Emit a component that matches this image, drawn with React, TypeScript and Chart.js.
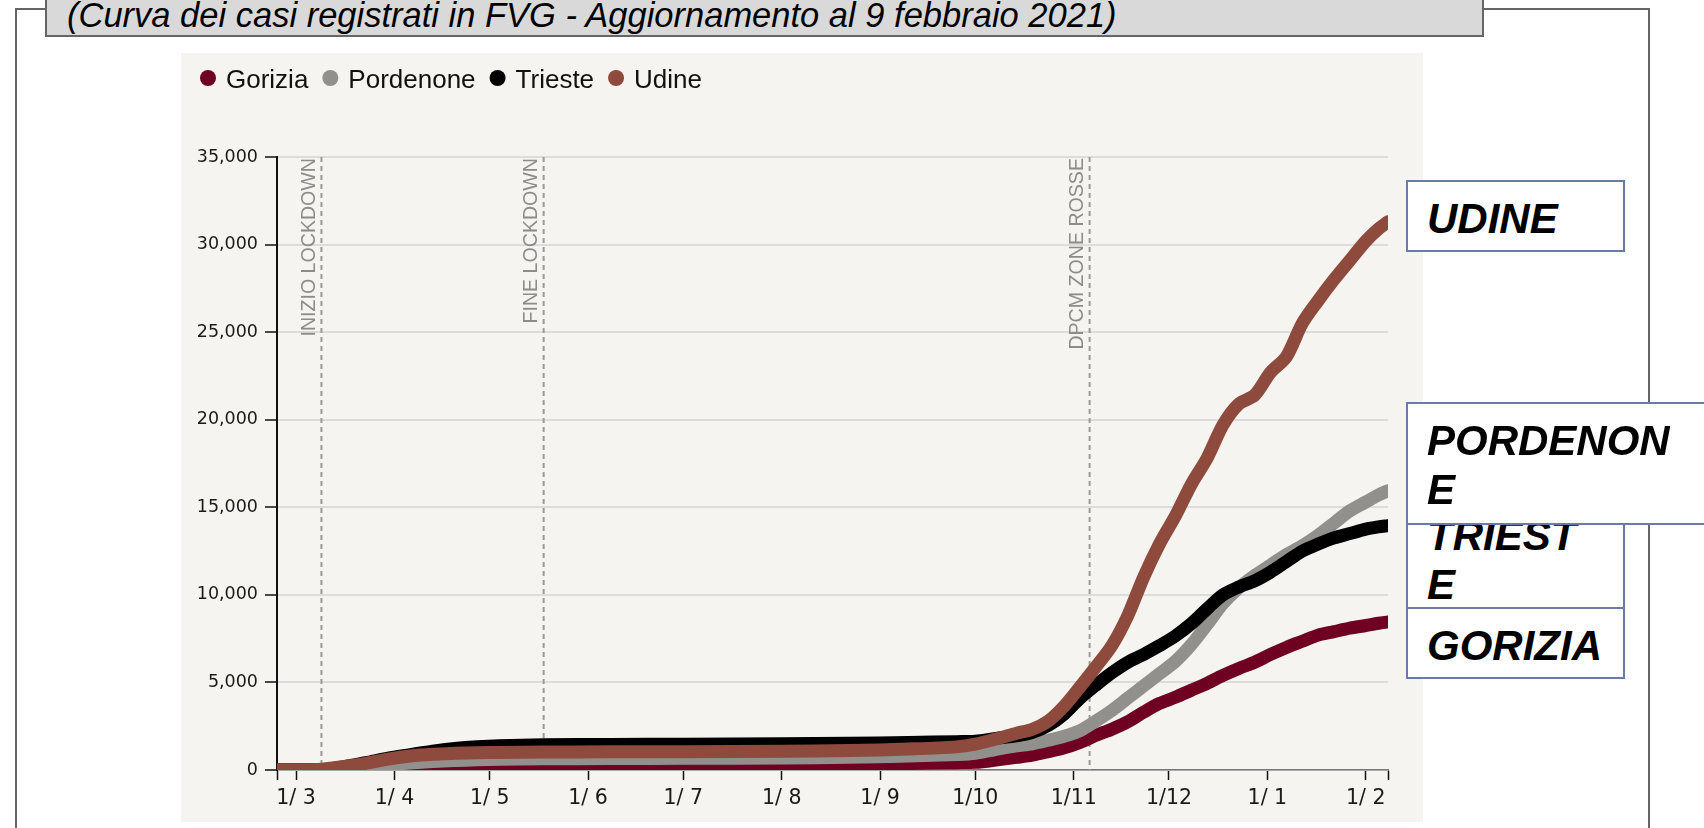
import React, { useEffect, useRef } from "react";
import { Chart, registerables } from "chart.js";

Chart.register(...registerables);

// ---------- DATA ----------
const dates = [
  "2020-02-24", "2020-03-02", "2020-03-09", "2020-03-16", "2020-03-23", "2020-03-30",
  "2020-04-06", "2020-04-13", "2020-04-20", "2020-04-27", "2020-05-04", "2020-05-18",
  "2020-06-08", "2020-07-01", "2020-08-01", "2020-08-22", "2020-09-10", "2020-09-25",
  "2020-10-01", "2020-10-08", "2020-10-14", "2020-10-19", "2020-10-24", "2020-10-29",
  "2020-11-03", "2020-11-08", "2020-11-13", "2020-11-18", "2020-11-23", "2020-11-28",
  "2020-12-03", "2020-12-08", "2020-12-13", "2020-12-18", "2020-12-23", "2020-12-28",
  "2021-01-02", "2021-01-07", "2021-01-12", "2021-01-17", "2021-01-22", "2021-01-27",
  "2021-02-01", "2021-02-05", "2021-02-08",
];

const gorizia = [
  0, 0, 2, 20, 50, 90,
  130, 170, 200, 220, 240, 260,
  270, 280, 300, 330, 370, 420,
  440, 580, 720, 850, 1050, 1270,
  1580, 1980, 2330, 2750, 3300, 3800,
  4150, 4550, 4950, 5400, 5800, 6150,
  6600, 7000, 7350, 7700, 7900, 8100,
  8250, 8380, 8450,
];

const pordenone = [
  0, 0, 10, 70, 180, 300,
  400, 480, 540, 580, 610, 640,
  655, 665, 690, 730, 800, 880,
  950, 1200, 1380, 1500, 1700, 1930,
  2250, 2800, 3400, 4100, 4800, 5500,
  6200, 7150, 8300, 9500, 10400, 11100,
  11700, 12300, 12800, 13400, 14100, 14800,
  15300, 15700, 15950,
];

const trieste = [
  0, 0, 20, 180, 420, 680,
  880, 1080, 1230, 1330, 1390, 1440,
  1460, 1470, 1500, 1530, 1570, 1620,
  1640, 1820, 1950, 2150, 2550, 3200,
  4100, 4850, 5550, 6150, 6600, 7100,
  7650, 8350, 9200, 10000, 10450, 10800,
  11300, 11900, 12500, 12900, 13250, 13500,
  13750, 13880, 13950,
];

const udine = [
  0, 0, 40, 200, 380, 620,
  800, 900, 950, 985, 1005, 1025,
  1035, 1045, 1070, 1110, 1200, 1320,
  1480, 1800, 2100, 2330, 2800, 3650,
  4750, 5900, 7100, 8800, 11000, 12900,
  14500, 16300, 17800, 19700, 20900, 21400,
  22700, 23600, 25500, 26800, 28000, 29100,
  30200, 30900, 31300,
];

const seriesNames = ["Gorizia", "Pordenone", "Trieste", "Udine"];
const seriesColors = ["#6f0022", "#91908c", "#000000", "#8e4a3c"];

const axisStartDate = "2020-02-24";
const axisEndDate = "2021-02-08";
const monthTickDates = [
  "2020-03-01", "2020-04-01", "2020-05-01", "2020-06-01", "2020-07-01", "2020-08-01",
  "2020-09-01", "2020-10-01", "2020-11-01", "2020-12-01", "2021-01-01", "2021-02-01",
];
const monthTickLabels = ["1/ 3", "1/ 4", "1/ 5", "1/ 6", "1/ 7", "1/ 8", "1/ 9", "1/10", "1/11", "1/12", "1/ 1", "1/ 2"];

const yTickValues = [0, 5000, 10000, 15000, 20000, 25000, 30000, 35000];
const yTickLabels = ["0", "5,000", "10,000", "15,000", "20,000", "25,000", "30,000", "35,000"];

const eventDates = ["2020-03-09", "2020-05-18", "2020-11-06"];
const eventLabels = ["INIZIO LOCKDOWN", "FINE LOCKDOWN", "DPCM ZONE ROSSE"];

const titleText = "(Curva dei casi registrati in FVG - Aggiornamento al 9 febbraio 2021)";

// ---------- HELPERS ----------
const START = Date.UTC(2020, 1, 24);
const dayOf = (s: string) => {
  const [y, m, d] = s.split("-").map(Number);
  return Math.round((Date.UTC(y, m - 1, d) - START) / 86400000);
};

const monthTickDays = monthTickDates.map(dayOf);
const eventDays = eventDates.map(dayOf);

const eventPlugin = {
  id: "eventLines",
  beforeDatasetsDraw(chart: any) {
    const { ctx, chartArea, scales } = chart;
    ctx.save();
    eventDays.forEach((d, i) => {
      const x = scales.x.getPixelForValue(d);
      ctx.strokeStyle = "#9a9a9a";
      ctx.lineWidth = 2;
      ctx.setLineDash([5, 4]);
      ctx.beginPath();
      ctx.moveTo(x, chartArea.top);
      ctx.lineTo(x, chartArea.bottom);
      ctx.stroke();
      ctx.setLineDash([]);
      ctx.save();
      ctx.translate(x - 6.5, chartArea.top + 1);
      ctx.rotate(-Math.PI / 2);
      ctx.fillStyle = "#8c8c8c";
      ctx.font = '19.6px "Liberation Sans", Arial, sans-serif';
      ctx.textAlign = "right";
      ctx.textBaseline = "alphabetic";
      ctx.fillText(eventLabels[i], 0, 0);
      ctx.restore();
    });
    ctx.restore();
  },
};

const legendPlugin = {
  id: "dotLegend",
  afterDraw(chart: any) {
    const ctx = chart.ctx;
    ctx.save();
    ctx.font = '26px "Liberation Sans", Arial, sans-serif';
    ctx.textBaseline = "alphabetic";
    ctx.textAlign = "left";
    let cx = 27;
    const cy = 25;
    chart.data.datasets.forEach((ds: any) => {
      ctx.fillStyle = ds.borderColor;
      ctx.beginPath();
      ctx.arc(cx, cy, 8, 0, Math.PI * 2);
      ctx.fill();
      const tx = cx + 18;
      ctx.fillStyle = "#111";
      ctx.fillText(ds.label, tx, cy + 9.5);
      cx = tx + ctx.measureText(ds.label).width + 22;
    });
    ctx.restore();
  },
};

function ChartCanvas() {
  const ref = useRef<HTMLCanvasElement | null>(null);
  useEffect(() => {
    if (!ref.current) return;
    const series = [gorizia, pordenone, trieste, udine];
    const chart = new Chart(ref.current, {
      type: "line",
      data: {
        datasets: series.map((vals, i) => ({
          label: seriesNames[i],
          data: dates.map((d, j) => ({ x: dayOf(d), y: vals[j] })),
          borderColor: seriesColors[i],
          backgroundColor: seriesColors[i],
          borderWidth: 13,
          borderCapStyle: "round",
          borderJoinStyle: "round",
          pointRadius: 0,
          tension: 0.3,
          order: 3 - i,
          fill: false,
        })),
      },
      options: {
        responsive: false,
        animation: false,
        events: [],
        layout: { padding: { left: 0, right: 35, top: 104, bottom: 0 } },
        plugins: {
          legend: { display: false },
          tooltip: { enabled: false },
          title: { display: false },
        },
        scales: {
          x: {
            type: "linear",
            min: dayOf(axisStartDate),
            max: dayOf(axisEndDate),
            afterFit: (s: any) => {
              s.height = 52;
            },
            afterBuildTicks: (s: any) => {
              s.ticks = [dayOf(axisStartDate), ...monthTickDays, dayOf(axisEndDate)].map((v) => ({ value: v }));
            },
            ticks: {
              autoSkip: false,
              maxRotation: 0,
              padding: 6,
              color: "#1a1a1a",
              font: { family: '"DejaVu Sans", sans-serif', size: 20.5 },
              callback: (v: any) => {
                const i = monthTickDays.indexOf(v);
                return i >= 0 ? monthTickLabels[i] : "";
              },
            },
            grid: { drawOnChartArea: false, drawTicks: true, tickLength: 10, tickColor: "#111", tickWidth: 1.5 },
            border: { display: true, color: "#777", width: 1.5 },
          },
          y: {
            min: 0,
            max: 35000,
            afterFit: (s: any) => {
              s.width = 96;
            },
            afterBuildTicks: (s: any) => {
              s.ticks = yTickValues.map((v) => ({ value: v }));
            },
            ticks: {
              padding: 7,
              color: "#1a1a1a",
              font: { family: '"DejaVu Sans", sans-serif', size: 17.5 },
              callback: (v: any) => yTickLabels[yTickValues.indexOf(v)],
            },
            grid: { color: "#dcdcdc", lineWidth: 2, tickColor: "#111", tickLength: 12, tickWidth: 1.5 },
            border: { display: true, color: "#111", width: 2 },
          },
        },
      },
      plugins: [eventPlugin, legendPlugin],
    } as any);
    return () => chart.destroy();
  }, []);
  return <canvas ref={ref} width={1242} height={769} style={{ display: "block", width: 1242, height: 769 }} />;
}

const boxBorder = "2px solid #6a7ca6";
const labelFont: React.CSSProperties = {
  position: "absolute",
  fontFamily: '"Liberation Sans", Arial, sans-serif',
  fontWeight: "bold",
  fontStyle: "italic",
  fontSize: 42,
  lineHeight: "49px",
  color: "#000",
  wordBreak: "break-all",
};

export default function App() {
  return (
    <div
      style={{
        position: "fixed",
        left: 0,
        top: 0,
        width: 1704,
        height: 828,
        overflow: "hidden",
        background: "#ffffff",
        fontFamily: '"Liberation Sans", Arial, sans-serif',
      }}
    >
      {/* slide frame */}
      <div style={{ position: "absolute", left: 15, top: 8, width: 1635, height: 900, border: "2px solid #666", boxSizing: "border-box" }} />
      {/* title box */}
      <div style={{ position: "absolute", left: 45, top: -11, width: 1439, height: 48, background: "#d9d9d9", border: "2px solid #666", boxSizing: "border-box" }} />
      <div
        style={{
          position: "absolute",
          left: 67,
          top: -2,
          fontSize: 34.5,
          lineHeight: "34px",
          fontStyle: "italic",
          whiteSpace: "nowrap",
          color: "#000",
        }}
      >
        {titleText}
      </div>
      {/* chart panel */}
      <div style={{ position: "absolute", left: 181, top: 53, width: 1242, height: 769, background: "#f5f4f0" }}>
        <ChartCanvas />
      </div>
      {/* side labels */}
      <div style={{ position: "absolute", left: 1406, top: 180, width: 219, height: 72, border: boxBorder, background: "#fff", boxSizing: "border-box" }}>
        <div style={{ ...labelFont, left: 19, top: 11.5, width: 190 }}>UDINE</div>
      </div>
      <div style={{ position: "absolute", left: 1406, top: 498, width: 219, height: 130, border: boxBorder, background: "#fff", boxSizing: "border-box" }}>
        <div style={{ ...labelFont, left: 19, top: 11, width: 160 }}>TRIESTE</div>
      </div>
      <div style={{ position: "absolute", left: 1406, top: 402, width: 400, height: 123, border: boxBorder, background: "#fff", boxSizing: "border-box" }}>
        <div style={{ ...labelFont, left: 19, top: 11.5, width: 255 }}>PORDENONE</div>
      </div>
      <div style={{ position: "absolute", left: 1406, top: 607, width: 219, height: 72, border: boxBorder, background: "#fff", boxSizing: "border-box" }}>
        <div style={{ ...labelFont, left: 19, top: 11.5, width: 190 }}>GORIZIA</div>
      </div>
    </div>
  );
}
